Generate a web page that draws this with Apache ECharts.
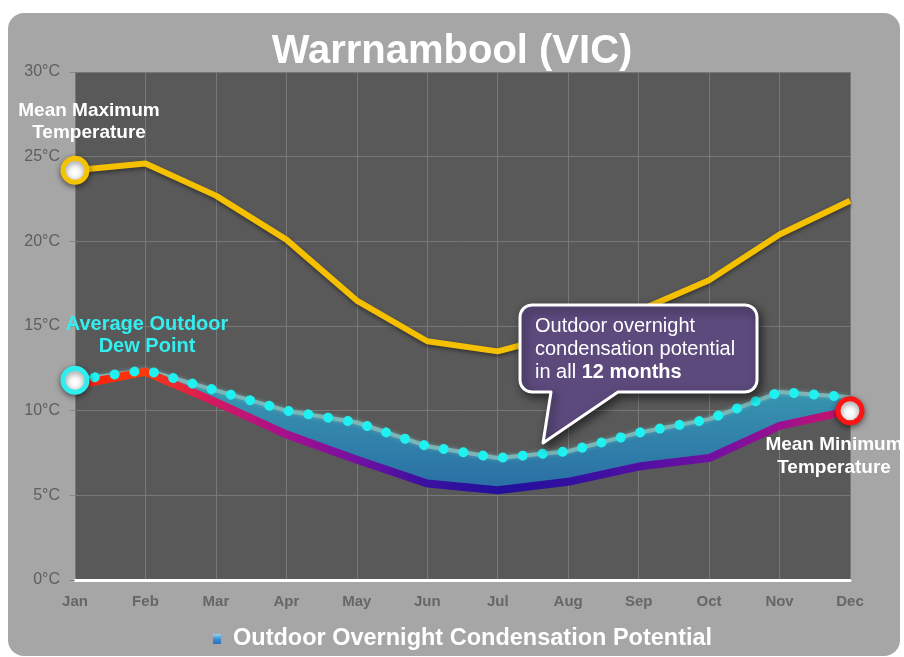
<!DOCTYPE html>
<html><head><meta charset="utf-8">
<script src="https://cdn.jsdelivr.net/npm/echarts@6/dist/echarts.min.js"></script>
<style>html,body{margin:0;padding:0;background:#fff}#c{width:904px;height:657px}</style>
</head><body><div id="c"></div>
<script>
const months = ['Jan','Feb','Mar','Apr','May','Jun','Jul','Aug','Sep','Oct','Nov','Dec'];
const maxTemp = [24.2, 24.6, 22.7, 20.1, 16.5, 14.1, 13.5, 14.6, 15.9, 17.7, 20.4, 22.4];
const minTemp = [11.5, 12.3, 10.5, 8.6, 7.1, 5.7, 5.3, 5.8, 6.7, 7.2, 9.1, 10.0];
const dewPoint = [11.8, 12.4, 11.2, 10.0, 9.3, 7.9, 7.2, 7.6, 8.7, 9.5, 11.1, 10.8];
const bandName = 'Outdoor Overnight Condensation Potential';
const FONT = 'Liberation Sans, Arial, sans-serif';

const chart = echarts.init(document.getElementById('c'), null, {renderer: 'canvas'});

const last = months.length - 1;
const bandDiff = dewPoint.map((d, i) => +(d - minTemp[i]).toFixed(2));

// callout outline: rounded box with a tail (annotation geometry)
function calloutPoints(x1, y1, x2, y2, r, tail) {
  const pts = [];
  function arc(cx, cy, a0) {
    for (let k = 0; k <= 6; k++) {
      const a = (a0 + k * 15) * Math.PI / 180;
      pts.push([cx + r * Math.cos(a), cy + r * Math.sin(a)]);
    }
  }
  arc(x1 + r, y1 + r, 180);
  arc(x2 - r, y1 + r, 270);
  arc(x2 - r, y2 - r, 0);
  pts.push(tail[2], tail[1], tail[0]);
  arc(x1 + r, y2 - r, 90);
  return pts;
}

function endMarker(v, ring, labelCfg) {
  return {
    value: v, symbol: 'circle', symbolSize: 24,
    itemStyle: {color: '#ffffff', borderColor: ring, borderWidth: 5,
      shadowBlur: 6, shadowColor: 'rgba(0,0,0,0.45)', shadowOffsetY: 2},
    label: Object.assign({show: true, fontFamily: FONT, fontWeight: 'bold', align: 'center'}, labelCfg)
  };
}

const option = {
  animation: false,
  backgroundColor: '#ffffff',
  title: {
    text: 'Warrnambool (VIC)', left: 'center', top: 27,
    textStyle: {color: '#ffffff', fontFamily: FONT, fontWeight: 'bold', fontSize: 40}
  },
  legend: {
    data: [{name: bandName, icon: 'rect', itemStyle: {color: new echarts.graphic.LinearGradient(0, 0, 0, 1, [
      {offset: 0, color: '#9ad4f4'}, {offset: 0.5, color: '#3a8fd0'}, {offset: 1, color: '#2a70b8'}])}}],
    top: 622, left: 208, itemWidth: 8, itemHeight: 10, itemGap: 6,
    textStyle: {color: '#ffffff', fontFamily: FONT, fontWeight: 'bold', fontSize: 23.5, padding: [0, 0, 0, 7]},
    selectedMode: false
  },
  grid: {left: 75, right: 54, top: 72, bottom: 77, show: true, backgroundColor: '#595959', borderWidth: 0},
  xAxis: {
    type: 'category', data: months, boundaryGap: false,
    axisLine: {lineStyle: {color: '#ffffff', width: 3}},
    axisTick: {show: false},
    axisLabel: {color: '#666666', fontFamily: FONT, fontWeight: 'bold', fontSize: 15, margin: 14},
    splitLine: {show: true, lineStyle: {color: '#787878', width: 1}}
  },
  yAxis: {
    type: 'value', min: 0, max: 30, interval: 5,
    axisLine: {show: false},
    axisTick: {show: true, length: 6, lineStyle: {color: '#8a8a8a'}},
    axisLabel: {formatter: '{value}°C', color: '#5e5e5e', fontFamily: FONT, fontSize: 16, margin: 15},
    splitLine: {lineStyle: {color: '#787878', width: 1}}
  },
  series: [
    {
      name: 'base', type: 'line', stack: 'band', data: minTemp, symbol: 'none',
      lineStyle: {width: 0, opacity: 0}, silent: true, z: 1
    },
    {
      name: bandName, type: 'line', stack: 'band', data: bandDiff, symbol: 'none',
      lineStyle: {color: '#7ab6b8', width: 4, shadowBlur: 4, shadowColor: 'rgba(120,190,190,0.6)'},
      areaStyle: {opacity: 1, color: new echarts.graphic.LinearGradient(0, 0, 0, 1, [
        {offset: 0, color: '#3a9db2'}, {offset: 1, color: '#2a6ea4'}])},
      itemStyle: {color: '#3a8fc8'}, z: 2
    },
    {
      name: 'Mean Minimum Temperature', type: 'line', data: minTemp.map((v, i) => i === last ? endMarker(v, '#ff1414', {
          formatter: 'Mean Minimum\nTemperature', position: 'bottom', distance: 8, offset: [-16, 0],
          color: '#ffffff', fontSize: 19, lineHeight: 23}) : v),
      symbol: 'none', showSymbol: true, showAllSymbol: true,
      lineStyle: {width: 8, cap: 'round', join: 'round', color: new echarts.graphic.LinearGradient(0, 0, 1, 0, [
        {offset: 0, color: '#ff1212'}, {offset: 0.09, color: '#ff3a08'}, {offset: 0.18, color: '#d41860'},
        {offset: 0.27, color: '#a8108a'}, {offset: 0.36, color: '#7610a0'}, {offset: 0.45, color: '#3c10a0'},
        {offset: 0.55, color: '#22109a'}, {offset: 0.64, color: '#3410a0'}, {offset: 0.73, color: '#5210a2'},
        {offset: 0.82, color: '#7210a0'}, {offset: 0.91, color: '#9c1090'}, {offset: 1, color: '#d41460'}])},
      z: 3
    },
    {
      name: 'Average Outdoor Dew Point', type: 'line', data: dewPoint.map((v, i) => i === 0 ? endMarker(v, '#30eeee', {
          formatter: 'Average Outdoor\nDew Point', position: 'top', distance: 8, offset: [72, 0],
          color: '#33eeee', fontSize: 20, lineHeight: 22}) : v),
      symbol: 'none', showSymbol: true, showAllSymbol: true,
      lineStyle: {color: '#1ff0f0', width: 10, type: [0.01, 20], cap: 'round'},
      z: 4
    },
    {
      name: 'Mean Maximum Temperature', type: 'line', data: maxTemp.map((v, i) => i === 0 ? endMarker(v, '#f5c400', {
          formatter: 'Mean Maximum\nTemperature', position: 'top', distance: 12, offset: [14, 0],
          color: '#ffffff', fontSize: 19, lineHeight: 22}) : v),
      symbol: 'none', showSymbol: true, showAllSymbol: true,
      lineStyle: {color: '#f5c000', width: 6, shadowBlur: 4, shadowColor: 'rgba(0,0,0,0.45)', shadowOffsetY: 2},
      z: 5
    }
  ],
  graphic: [
    {type: 'rect', z: -100, silent: true, shape: {x: 8, y: 13, width: 892, height: 643, r: 16},
     style: {fill: '#a6a6a6'}},
    {type: 'polygon', z: 100, silent: true,
     shape: {points: calloutPoints(520, 305, 757, 392, 12, [[551, 392], [543, 443], [618, 392]])},
     style: {fill: '#5c4a7d', stroke: '#ffffff', lineWidth: 3, lineJoin: 'round',
       shadowBlur: 10, shadowColor: 'rgba(0,0,0,0.55)', shadowOffsetX: 3, shadowOffsetY: 4}},
    {type: 'text', z: 101, silent: true, x: 535, y: 315, style: {
        text: '{a|Outdoor overnight}\n{a|condensation potential}\n{a|in all }{b|12 months}',
        fill: '#ffffff', fontFamily: FONT, fontSize: 20, lineHeight: 23,
        rich: {
          a: {fontFamily: FONT, fontSize: 20, fill: '#ffffff', lineHeight: 23},
          b: {fontFamily: FONT, fontSize: 20, fill: '#ffffff', fontWeight: 'bold', lineHeight: 23}
        }}}
  ]
};
chart.setOption(option);
</script></body></html>
